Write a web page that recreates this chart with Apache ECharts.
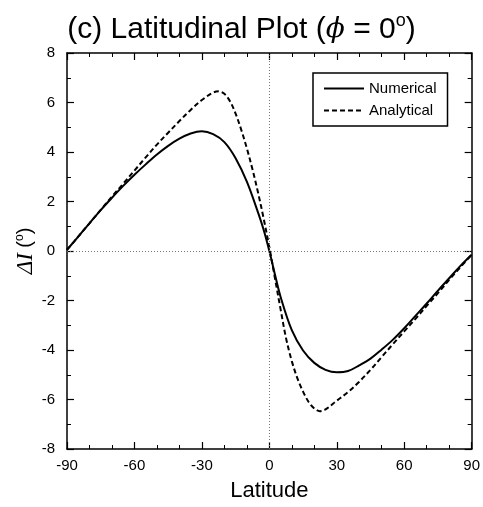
<!DOCTYPE html>
<html>
<head>
<meta charset="utf-8">
<script src="https://cdn.jsdelivr.net/npm/echarts@6.0.0/dist/echarts.min.js"></script>
<style>
  html, body { margin: 0; padding: 0; background: #fff; }
  #main { width: 483px; height: 507px; }
</style>
</head>
<body>
<div id="main"></div>
<script>
// values
const numLat = [-90, -85, -80, -75, -70, -65, -60, -55, -50, -45, -40, -35, -30, -25, -20, -15, -10, -5, -2.5, 0,
  2.5, 5, 10, 15, 20, 25, 30, 35, 40, 45, 50, 55, 60, 65, 70, 75, 80, 85, 90];
const numVal = [0.05, 0.58, 1.12, 1.65, 2.15, 2.63, 3.08, 3.5, 3.9, 4.25, 4.54, 4.75, 4.84, 4.72, 4.4, 3.75, 2.8, 1.55, 0.85, 0.0,
  -0.95, -1.85, -3.2, -4.02, -4.52, -4.8, -4.9, -4.85, -4.62, -4.35, -3.98, -3.58, -3.12, -2.62, -2.12, -1.6, -1.1, -0.6, -0.15];

const anaLat = [-90, -85, -80, -75, -70, -65, -60, -55, -50, -45, -40, -35, -30, -25, -22.5, -20, -17.5, -15, -12.5, -10, -7.5, -5, -2.5, 0,
  2.5, 5, 7.5, 10, 12.5, 15, 17.5, 20, 22.5, 25, 30, 35, 40, 45, 50, 55, 60, 65, 70, 75, 80, 85, 90];
const anaVal = [0.05, 0.58, 1.12, 1.66, 2.2, 2.72, 3.25, 3.78, 4.3, 4.78, 5.25, 5.7, 6.1, 6.4, 6.45, 6.35, 6.05, 5.55, 4.9, 4.15, 3.3, 2.35, 1.3, 0.15,
  -1.1, -2.35, -3.55, -4.45, -5.15, -5.68, -6.1, -6.36, -6.47, -6.4, -6.05, -5.7, -5.28, -4.8, -4.28, -3.76, -3.25, -2.74, -2.22, -1.7, -1.17, -0.65, -0.15];

const xTicks = { min: -90, max: 90, interval: 30 };
const yTicks = { min: -8, max: 8, interval: 2 };

const font = "Liberation Sans, Arial, sans-serif";
const serif = "DejaVu Serif, Liberation Serif, serif";

const numData = numLat.map((x, i) => [x, numVal[i]]);
const anaData = anaLat.map((x, i) => [x, anaVal[i]]);

function axisBase(extra) {
  return Object.assign({
    type: "value",
    axisLine: { show: true, onZero: false, lineStyle: { color: "#000", width: 1.5 } },
    axisTick: { show: true, inside: true, length: 7, lineStyle: { color: "#000", width: 1.2 } },
    splitLine: { show: false },
    axisLabel: { color: "#000", fontSize: 15, fontFamily: font },
  }, extra);
}

const xMinor = { show: true, splitNumber: 3, length: 4, lineStyle: { color: "#000", width: 1 } };
const yMinor = { show: true, splitNumber: 2, length: 4, lineStyle: { color: "#000", width: 1 } };

const chart = echarts.init(document.getElementById("main"));
chart.setOption({
  backgroundColor: "#fff",
  animation: false,
  title: {
    text: "(c) Latitudinal Plot ({p|ϕ} = 0{s|o})",
    left: "center",
    top: 7,
    textStyle: {
      fontSize: 30, fontWeight: "normal", color: "#000", fontFamily: font, lineHeight: 36,
      rich: {
        p: { fontFamily: serif, fontStyle: "italic", fontSize: 28, color: "#000" },
        s: { fontSize: 18, fontFamily: font, color: "#000", verticalAlign: "top", lineHeight: 18 },
      },
    },
  },
  legend: {
    data: ["Numerical", "Analytical"],
    orient: "vertical",
    left: 313,
    top: 73,
    itemWidth: 40,
    itemHeight: 12,
    itemGap: 7,
    padding: [8, 11, 8, 10],
    borderColor: "#000",
    borderWidth: 1.5,
    itemStyle: { opacity: 0 },
    textStyle: { fontSize: 15, fontFamily: font, color: "#000" },
  },
  grid: { left: 67, right: 10, top: 53, bottom: 52 },
  xAxis: [
    axisBase(Object.assign({
      position: "bottom",
      minorTick: xMinor,
      axisLabel: { color: "#000", fontSize: 15, fontFamily: font, margin: 9 },
      name: "Latitude",
      nameLocation: "middle",
      nameGap: 31,
      nameMoveOverlap: false,
      nameTextStyle: { fontSize: 22, fontFamily: font, color: "#000" },
    }, xTicks)),
    axisBase(Object.assign({
      position: "top",
      minorTick: xMinor,
      axisLabel: { show: false },
    }, xTicks)),
  ],
  yAxis: [
    axisBase(Object.assign({
      position: "left",
      minorTick: yMinor,
      axisLabel: { color: "#000", fontSize: 15, fontFamily: font, margin: 12 },
      name: "{i|ΔI} ({s|o})",
      nameLocation: "middle",
      nameGap: 30,
      nameMoveOverlap: false,
      nameRotate: 90,
      nameTextStyle: {
        fontSize: 20, fontFamily: font, color: "#000",
        rich: {
          i: { fontFamily: "Liberation Serif, serif", fontStyle: "italic", fontSize: 23, color: "#000" },
          s: { fontSize: 12, fontFamily: font, color: "#000", verticalAlign: "top" },
        },
      },
    }, yTicks)),
    axisBase(Object.assign({
      position: "right",
      minorTick: yMinor,
      axisLabel: { show: false },
    }, yTicks)),
  ],
  series: [
    {
      name: "Numerical",
      type: "line",
      data: numData,
      smooth: 0.35,
      symbol: "none",
      lineStyle: { color: "#000", width: 2 },
      itemStyle: { color: "#000" },
      z: 3,
      markLine: {
        silent: true,
        symbol: ["none", "none"],
        label: { show: false },
        lineStyle: { type: [1, 2], color: "#777", width: 1 },
        data: [{ xAxis: 0 }, { yAxis: 0 }],
      },
    },
    {
      name: "Analytical",
      type: "line",
      data: anaData,
      smooth: 0.35,
      symbol: "none",
      lineStyle: { color: "#000", width: 2, type: [5, 3] },
      itemStyle: { color: "#000" },
      z: 3,
    },
  ],
});
</script>
</body>
</html>
